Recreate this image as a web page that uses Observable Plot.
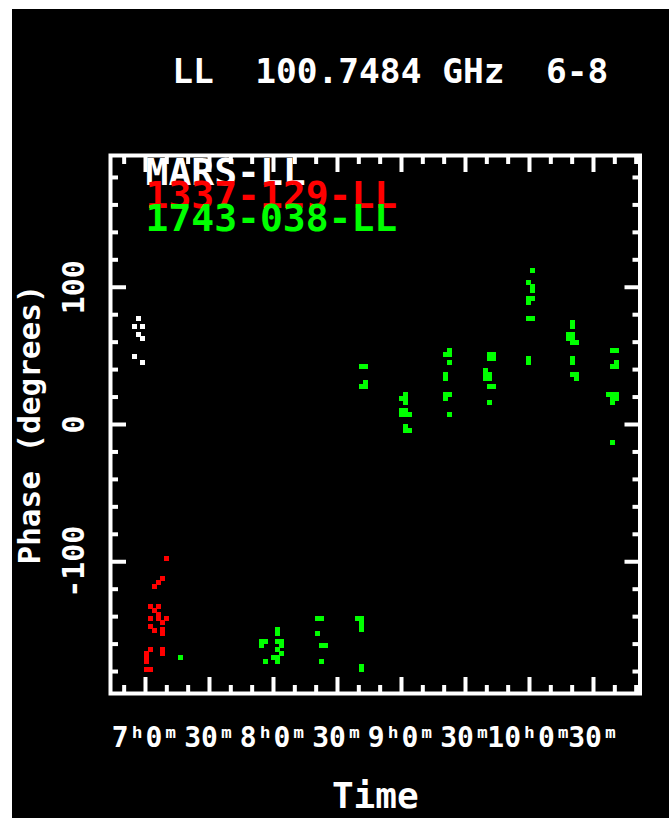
<!DOCTYPE html>
<html><head><meta charset="utf-8">
<script src="https://cdn.jsdelivr.net/npm/d3@7"></script>
<script src="https://cdn.jsdelivr.net/npm/@observablehq/plot@0.6"></script>
<style>
html,body{margin:0;padding:0;background:#fff;}
#wrap{position:absolute;left:12px;top:9px;width:657px;height:809px;background:#000;overflow:hidden;}
</style></head><body><div id="wrap"></div>
<script>
// Title / labels
const titleText = "LL\u00a0\u00a0100.7484\u00a0GHz\u00a0\u00a06-8";
const xLabel = "Time";
const yLabel = "Phase (degrees)";

// Legend
const sources = ["MARS-LL", "1337-129-LL", "1743-038-LL"];
const sourceColors = ["#ffffff", "#ff0000", "#00ff00"];

// Ticks (time in minutes after 0h UT, phase in degrees)
const xMajor = [420, 450, 480, 510, 540, 570, 600, 630];
const xMajorLabels = ["7ʰ0ᵐ", "30ᵐ", "8ʰ0ᵐ", "30ᵐ", "9ʰ0ᵐ", "30ᵐ", "10ʰ0ᵐ", "30ᵐ"];
const xMinor = [410, 430, 440, 460, 470, 490, 500, 520, 530, 550, 560, 580, 590, 610, 620, 640, 650];
const yMajor = [-100, 0, 100];
const yMinor = [-180, -160, -140, -120, -80, -60, -40, -20, 20, 40, 60, 80, 120, 140, 160, 180];

// MARS-LL
const marsTime  = [416.7, 414.8, 418.6, 416.7, 418.6, 414.8, 418.6];
const marsPhase = [77.3, 71.4, 71.4, 65.6, 62.7, 49.6, 45.2];

// 1337-129-LL
const q1337Time  = [429.8, 428.0, 426.1, 424.2, 422.3, 426.1, 424.2, 426.1, 422.3, 426.1, 429.8, 428.0,
                    422.3, 424.2, 428.0, 428.0, 422.3, 420.5, 420.5, 420.5, 428.0, 428.0, 420.5, 422.3];
const q1337Phase = [-97.7, -112.2, -115.2, -118.1, -132.7, -132.7, -135.6, -138.5, -141.4, -141.4, -141.4, -144.3,
                    -147.2, -150.1, -149.4, -152.3, -164.0, -166.9, -169.8, -172.7, -164.0, -166.9, -178.6, -178.6];

// 1743-038-LL
const q1743Time = [436.4, 481.9, 481.9, 474.4, 476.3, 474.4, 481.9, 483.8, 483.8, 481.9, 483.8, 480.0, 481.9, 481.9, 476.3,
  500.6, 502.5, 500.6, 502.5, 504.4, 502.5, 519.4, 521.3, 521.3, 521.3, 521.3, 521.3, 521.3,
  521.3, 523.1, 521.3, 523.1, 523.1, 540.0, 541.9, 541.9, 541.9, 540.0, 541.9, 540.0, 541.9, 543.8, 541.9, 541.9, 543.8,
  560.6, 562.5, 562.5, 562.5, 560.6, 560.6, 560.6, 562.5, 560.6, 562.5,
  581.3, 583.1, 581.3, 583.1, 579.4, 579.4, 581.3, 579.4, 581.3, 581.3, 583.1, 581.3,
  601.4, 599.5, 601.4, 601.4, 599.5, 601.4, 599.5, 599.5, 601.4, 599.5, 599.5,
  620.2, 620.2, 618.3, 620.2, 618.3, 620.2, 620.2, 622.0, 620.2, 620.2, 620.2, 622.0, 622.0,
  638.9, 640.8, 640.8, 638.9, 640.8, 637.0, 638.9, 640.8, 638.9, 640.8, 638.9, 638.9];
const q1743Phase = [-169.8, -149.4, -152.3, -158.2, -158.2, -161.1, -158.2, -158.2, -161.1, -164.0, -166.9, -169.8, -169.8, -172.7, -172.7,
  -141.4, -141.4, -152.3, -161.1, -161.1, -172.7, -141.4, -141.4, -144.3, -147.2, -149.4, -175.7, -178.6,
  42.3, 42.3, 27.7, 27.7, 30.6, 19.0, 21.9, 19.0, 16.0, 10.2, 10.2, 7.3, 7.3, 7.3, -1.5, -4.4, -4.4,
  51.0, 51.0, 53.9, 45.2, 36.4, 33.5, 21.9, 21.9, 19.0, 7.3,
  51.0, 51.0, 48.1, 48.1, 39.4, 36.4, 36.4, 33.5, 33.5, 27.7, 27.7, 16.0,
  112.2, 103.5, 100.6, 97.7, 91.8, 91.8, 88.9, 77.3, 77.3, 48.1, 45.2,
  74.3, 71.4, 65.6, 65.6, 62.7, 62.7, 59.8, 59.8, 48.1, 45.2, 36.4, 36.4, 33.5,
  53.9, 53.9, 45.2, 42.3, 42.3, 21.9, 21.9, 21.9, 19.0, 19.0, 16.0, -13.1];

const toRows = (t, p) => t.map((v, i) => ({time: v, phase: p[i]}));
const mars = toRows(marsTime, marsPhase);
const q1337 = toRows(q1337Time, q1337Phase);
const q1743 = toRows(q1743Time, q1743Phase);

const font = "DejaVu Sans Mono";
const tick = {stroke: "white", strokeWidth: 4, fill: "none", label: null, tickFormat: () => ""};
const dotOpts = c => ({x: "time", y: "phase", symbol: "square", r: 2.4, fill: c, stroke: null, shapeRendering: "crispEdges"});
const legendDy = [17, 40, 63];

const chart = Plot.plot({
  width: 657, height: 809,
  marginLeft: 98, marginRight: 29.5, marginTop: 146, marginBottom: 125,
  style: {background: "black", color: "white", fontFamily: font},
  x: {domain: [403.6, 651.8]},
  y: {domain: [-196, 196]},
  marks: [
    Plot.frame({stroke: "white", strokeWidth: 4}),
    Plot.axisX({ticks: xMinor, anchor: "bottom", tickSize: -8, ...tick}),
    Plot.axisX({ticks: xMinor, anchor: "top", tickSize: -8, ...tick}),
    Plot.axisX({ticks: xMajor, anchor: "bottom", tickSize: -16, ...tick}),
    Plot.axisX({ticks: xMajor, anchor: "top", tickSize: -16, ...tick}),
    Plot.axisY({ticks: yMinor, anchor: "left", tickSize: -8, ...tick}),
    Plot.axisY({ticks: yMinor, anchor: "right", tickSize: -8, ...tick}),
    Plot.axisY({ticks: yMajor, anchor: "left", tickSize: -16, ...tick}),
    Plot.axisY({ticks: yMajor, anchor: "right", tickSize: -16, ...tick}),
    Plot.dot(mars, dotOpts(sourceColors[0])),
    Plot.dot(q1337, dotOpts(sourceColors[1])),
    Plot.dot(q1743, dotOpts(sourceColors[2])),
    Plot.text(xMajor, {x: d => d, text: (d, i) => xMajorLabels[i], frameAnchor: "bottom", dy: 45,
      fill: "white", fontSize: 28, fontWeight: "bold", fontFamily: font, lineAnchor: "middle"}),
    Plot.text(yMajor, {y: d => d, text: d => String(d), frameAnchor: "left", textAnchor: "middle", dx: -36, rotate: -90,
      fill: "white", fontSize: 30, fontWeight: "bold", fontFamily: font, lineAnchor: "middle"}),
    Plot.text([yLabel], {frameAnchor: "left", textAnchor: "middle", dx: -80, rotate: -90,
      fill: "white", fontSize: 31, fontWeight: "bold", fontFamily: font, lineAnchor: "middle"}),
    Plot.text([xLabel], {frameAnchor: "bottom", dy: 103,
      fill: "white", fontSize: 36, fontWeight: "bold", fontFamily: font, lineAnchor: "middle"}),
    Plot.text([titleText], {frameAnchor: "top", dx: 15, dy: -84,
      fill: "white", fontSize: 34.5, fontWeight: "bold", fontFamily: font, lineAnchor: "middle"}),
    ...sources.map((s, i) => Plot.text([s], {frameAnchor: "top-left", textAnchor: "start", dx: 35, dy: legendDy[i],
      fill: sourceColors[i], fontSize: 38, fontWeight: "bold", fontFamily: font, lineAnchor: "middle"}))
  ]
});
document.getElementById("wrap").appendChild(chart);
</script>
</body></html>
